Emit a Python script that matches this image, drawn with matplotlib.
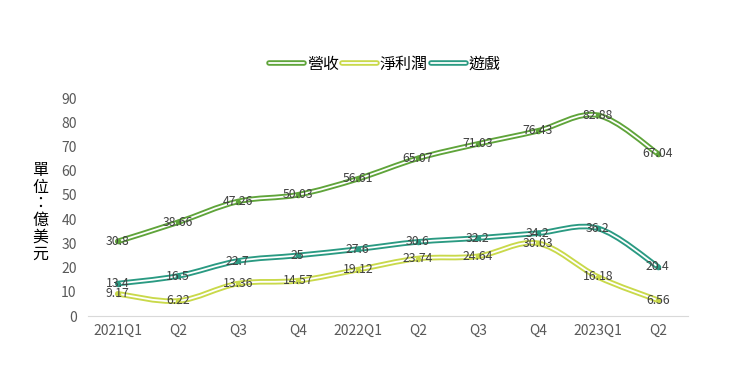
import matplotlib
matplotlib.use('Agg')
import matplotlib.pyplot as plt
import matplotlib.patheffects as pe
import numpy as np
from matplotlib.path import Path
from matplotlib.patches import PathPatch
from matplotlib.lines import Line2D

plt.rcParams['font.family'] = ['Noto Sans CJK TC', 'DejaVu Sans']

quarters = ['2021Q1', 'Q2', 'Q3', 'Q4', '2022Q1', 'Q2', 'Q3', 'Q4', '2023Q1', 'Q2']
revenue = [30.8, 38.66, 47.26, 50.03, 56.61, 65.07, 71.03, 76.43, 82.88, 67.04]
net_profit = [9.17, 6.22, 13.36, 14.57, 19.12, 23.74, 24.64, 30.03, 16.18, 6.56]
games = [13.4, 16.5, 22.7, 25, 27.6, 30.6, 32.2, 34.2, 36.2, 20.4]

names = ['營收', '淨利潤', '遊戲']
colors = ['#5fa43a', '#c9d94a', '#2a9a82']
series = [revenue, net_profit, games]


def smooth_path(x, y, t=1 / 6):
    # bezier through the points, like the smoothed lines in Excel
    pts = np.column_stack([x, y]).astype(float)
    verts = [pts[0]]
    codes = [Path.MOVETO]
    n = len(pts)
    for i in range(n - 1):
        p0 = pts[i - 1] if i > 0 else pts[i]
        p1 = pts[i]
        p2 = pts[i + 1]
        p3 = pts[i + 2] if i + 2 < n else pts[i + 1]
        c1 = p1 + (p2 - p0) * t
        c2 = p2 - (p3 - p1) * t
        verts += [c1, c2, p2]
        codes += [Path.CURVE4] * 3
    return Path(verts, codes)


def double_line(c):
    return [pe.Stroke(linewidth=4.0, foreground=c), pe.Normal()]


fig = plt.figure(figsize=(7.5, 3.69), dpi=100)
ax = fig.add_axes([0.117, 0.1436, 0.8, 0.5908])
x = np.arange(len(quarters))

for name, vals, c in zip(names, series, colors):
    p = smooth_path(x, vals)
    ax.add_patch(PathPatch(p, fill=False, edgecolor='white', lw=1.3,
                           capstyle='round', path_effects=double_line(c), zorder=2))
    ax.plot(x, vals, 'o', color=c, ms=3, zorder=3)
    for xi, v in zip(x, vals):
        ax.text(xi, v, f'{v:g}', ha='center', va='center', fontsize=8.8,
                color='#404040', zorder=4)

ax.set_xlim(-0.5, len(quarters) - 0.5)
ax.set_ylim(0, 90)
ax.set_yticks(range(0, 91, 10))
ax.set_xticks(x)
ax.set_xticklabels(quarters)
for s in ['top', 'right', 'left']:
    ax.spines[s].set_visible(False)
ax.spines['bottom'].set_color('#d9d9d9')
ax.tick_params(length=0, colors='#595959', labelsize=10)
ax.tick_params(axis='y', pad=8)
ax.tick_params(axis='x', pad=6)

fig.text(0.054, 0.425, '\n'.join('單位：億美元'), ha='center', va='center',
         fontsize=11.5, linespacing=0.98, color='black')

handles = [Line2D([], [], color='white', lw=1.3, solid_capstyle='round',
                  path_effects=double_line(c)) for c in colors]
fig.legend(handles, names, loc='center', bbox_to_anchor=(0.513, 0.826), ncol=3,
           frameon=False, fontsize=11.5, handlelength=2.2, handletextpad=0.15,
           columnspacing=0.2)

fig.savefig('out.png', dpi=100)
